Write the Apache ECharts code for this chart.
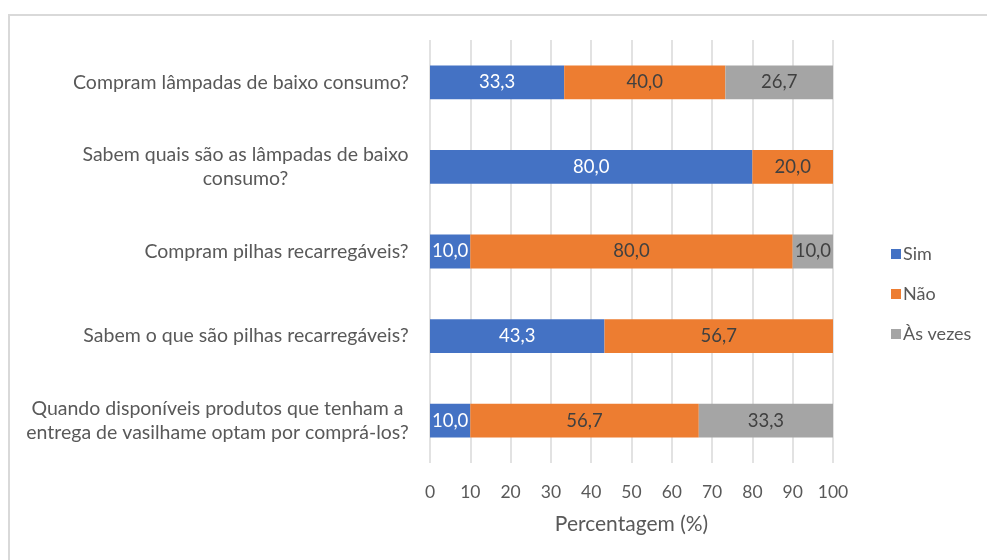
<!DOCTYPE html>
<html style="height: 100%">

<head>
    <meta charset="utf-8">
</head>

<body style="height: 100%; margin: 0; background: #fff">
    <div id="container" style="width: 987px; height: 560px"></div>

    <script type="text/javascript" src="https://cdn.jsdelivr.net/npm/echarts@6/dist/echarts.min.js"></script>

    <script type="text/javascript">

        var categories = [
            'Compram lâmpadas de baixo consumo?',
            'Sabem quais são as lâmpadas de baixo\nconsumo?',
            'Compram pilhas recarregáveis?',
            'Sabem o que são pilhas recarregáveis?',
            'Quando disponíveis produtos que tenham a\nentrega de vasilhame optam por comprá-los?'
        ];
        var sim = [33.3, 80.0, 10.0, 43.3, 10.0];
        var nao = [40.0, 20.0, 80.0, 56.7, 56.7];
        var asVezes = [26.7, 0, 10.0, 0, 33.3];

        var font = 'Lato';
        var catSize = 19.5;
        var dom = document.getElementById('container');
        var myChart = echarts.init(dom);

        // multi-line category labels are centred line by line, like Excel
        var ctx = document.createElement('canvas').getContext('2d');
        ctx.font = catSize + 'px ' + font;
        var rich = {};
        categories.forEach(function (c, i) {
            var w = 0;
            c.split('\n').forEach(function (l) { w = Math.max(w, ctx.measureText(l).width); });
            rich['c' + i] = { width: Math.ceil(w) + 2, align: 'center', color: '#595959', fontSize: catSize, fontFamily: font, lineHeight: 24 };
        });

        function fmt(p) {
            if (!p.value) return '';
            return p.value.toFixed(1).replace('.', ',');
        }

        function makeSeries(name, data, color, labelColor) {
            return {
                name: name,
                type: 'bar',
                stack: 'total',
                barWidth: '40%',
                data: data,
                itemStyle: { color: color },
                label: {
                    show: true,
                    position: 'inside',
                    color: labelColor,
                    fontFamily: font,
                    fontSize: 18.5,
                    formatter: fmt
                }
            };
        }

        var option = {
            animation: false,
            textStyle: { fontFamily: font },
            graphic: [{
                type: 'rect',
                shape: { x: 9, y: 15, width: 990, height: 560 },
                style: { fill: 'none', stroke: '#d9d9d9', lineWidth: 2 },
                silent: true
            }],
            legend: {
                orient: 'vertical',
                left: 886,
                top: 240,
                itemWidth: 10,
                itemHeight: 10,
                itemGap: 22,
                icon: 'rect',
                textStyle: { color: '#595959', fontSize: 18, fontFamily: font, padding: [0, 0, 0, -3] },
                data: ['Sim', 'Não', 'Às vezes']
            },
            grid: { left: 430, right: 154, top: 40, bottom: 97 },
            xAxis: {
                type: 'value',
                min: 0,
                max: 100,
                interval: 10,
                name: 'Percentagem (%)',
                nameLocation: 'middle',
                nameGap: 51,
                nameTextStyle: { color: '#595959', fontSize: 21, fontFamily: font },
                axisLine: { show: false },
                axisTick: { show: false },
                axisLabel: { color: '#595959', fontSize: 17.5, fontFamily: font, margin: 20 },
                splitLine: { lineStyle: { color: '#d9d9d9', width: 1.5 } }
            },
            yAxis: {
                type: 'category',
                inverse: true,
                data: categories,
                axisLine: { show: false },
                axisTick: { show: false },
                axisLabel: {
                    margin: 20,
                    align: 'right',
                    formatter: function (v, i) {
                        return v.split('\n').map(function (l) { return '{c' + i + '|' + l + '}'; }).join('\n');
                    },
                    rich: rich
                }
            },
            series: [
                makeSeries('Sim', sim, '#4472c4', '#ffffff'),
                makeSeries('Não', nao, '#ed7d31', '#404040'),
                makeSeries('Às vezes', asVezes, '#a5a5a5', '#404040')
            ]
        };

        myChart.setOption(option);

    </script>
</body>

</html>
